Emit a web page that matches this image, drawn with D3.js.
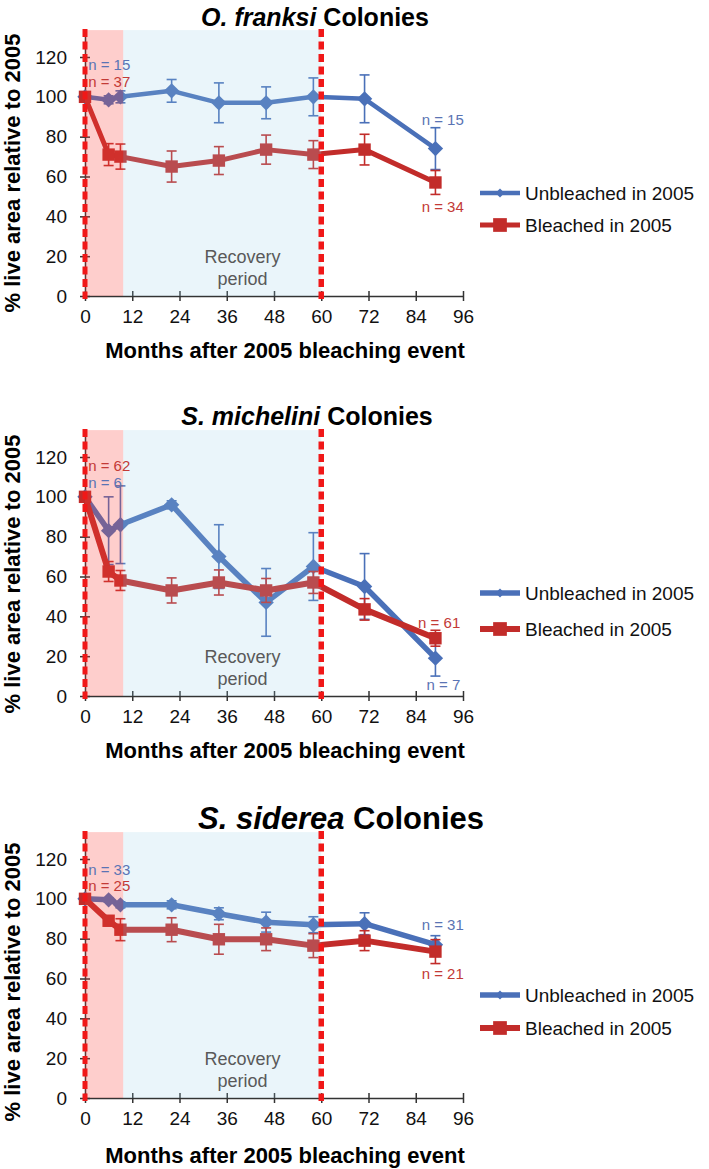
<!DOCTYPE html>
<html><head><meta charset="utf-8">
<script src="https://cdn.jsdelivr.net/npm/d3@7"></script>
<style>body{margin:0;background:#fff}</style>
</head><body>
<svg id="c" width="709" height="1169"></svg>
<script>
// ---- data ----
const months = [0, 6, 9, 22, 34, 46, 58, 71, 89];
const xTicks = [0, 12, 24, 36, 48, 60, 72, 84, 96];
const yTicks = [0, 20, 40, 60, 80, 100, 120];
const speciesNames = ["O. franksi", "S. michelini", "S. siderea"];
const seriesNames = ["Unbleached in 2005", "Bleached in 2005"];

const franksiUnbleached    = [100, 98.5, 100, 103, 97, 97, 100, 99, 74];
const franksiUnbleachedErr = [0, 2, 3, 5.7, 10, 8, 9.5, 12, 10.5];
const franksiBleached      = [100, 71, 70, 65, 68, 73.5, 71, 73.5, 57];
const franksiBleachedErr   = [0, 5.5, 6.3, 7.8, 7, 7.3, 7, 7.7, 6];

const michUnbleached    = [100, 83, 86, 96, 70, 47, 65, 55, 19];
const michUnbleachedErr = [0, 17, 19.5, 2, 16, 17, 17, 16.5, 9];
const michBleached      = [100, 62.5, 58, 53, 57, 53, 57, 43.5, 29];
const michBleachedErr   = [0, 5, 5, 6.3, 6.3, 6, 5.5, 5.4, 4];

const sidUnbleached    = [100, 99.5, 97, 97, 92.5, 88.3, 87, 87.5, 77];
const sidUnbleachedErr = [0, 1, 1.5, 2, 3, 5, 4, 5.5, 4.5];
const sidBleached      = [100, 89, 84.5, 84.5, 79.7, 79.7, 76.5, 79, 73.5];
const sidBleachedErr   = [0, 2.5, 5.5, 6, 7.5, 5.7, 6, 5, 6];

// n-labels: [text, series(0 blue/1 red), month, value, anchor]
const franksiLabels = [["n = 15",0,0.8,113.6,"start"],["n = 37",1,0.8,104.8,"start"],["n = 15",0,96.2,86,"end"],["n = 34",1,96.2,42.2,"end"]];
const michLabels    = [["n = 62",1,0.8,113,"start"],["n = 6",0,0.8,104.6,"start"],["n = 61",1,95.3,34.3,"end"],["n = 7",0,95.3,3,"end"]];
const sidLabels     = [["n = 33",0,0.8,112,"start"],["n = 25",1,0.8,103.8,"start"],["n = 31",0,96.2,84.2,"end"],["n = 21",1,96.2,59.5,"end"]];

const bleachEnd = 9.7, recoveryEnd = 60, yMax = 133.5;

// ---- layout ----
const FONT = "'Liberation Sans', Arial, sans-serif";
const blue = "#4a70b8", red = "#c22c2a", dashRed = "#f01818";
const panels = [
  {name: speciesNames[0], u: franksiUnbleached, ue: franksiUnbleachedErr, b: franksiBleached, be: franksiBleachedErr, labels: franksiLabels,
   y0: 296, titleX: 315, titleY: 26, titleSize: 25, ylabY: 173, xlabY: 358, leg: [-103, -71], lw: [4.5, 5]},
  {name: speciesNames[1], u: michUnbleached, ue: michUnbleachedErr, b: michBleached, be: michBleachedErr, labels: michLabels,
   y0: 696, titleX: 307, titleY: 425, titleSize: 25, ylabY: 574, xlabY: 758, leg: [-103, -67], lw: [5.5, 6]},
  {name: speciesNames[2], u: sidUnbleached, ue: sidUnbleachedErr, b: sidBleached, be: sidBleachedErr, labels: sidLabels,
   y0: 1098, titleX: 341, titleY: 829, titleSize: 31, ylabY: 982, xlabY: 1163, leg: [-103, -70], lw: [5.5, 6]}
];

const svg = d3.select("#c");
const x = d3.scaleLinear().domain([0, 96]).range([85, 463]);

panels.forEach(p => {
  const y = d3.scaleLinear().domain([0, yMax]).range([p.y0, p.y0 - 239 * yMax / 120]);
  const g = svg.append("g");

  // title
  const t = g.append("text").attr("x", p.titleX).attr("y", p.titleY).attr("text-anchor", "middle")
    .attr("font-family", FONT).attr("font-weight", "bold").attr("font-size", p.titleSize).attr("fill", "#000");
  t.append("tspan").attr("font-style", "italic").text(p.name);
  t.append("tspan").text(" Colonies");

  // axes
  const xa = g.append("g").attr("transform", `translate(0,${p.y0})`)
    .call(d3.axisBottom(x).tickValues(xTicks).tickSize(5).tickSizeOuter(0).tickPadding(10));
  xa.selectAll(".tick line").attr("y1", -5).attr("y2", 5);
  const ya = g.append("g").attr("transform", `translate(85,0)`)
    .call(d3.axisLeft(y).tickValues(yTicks).tickSize(5).tickSizeOuter(0).tickPadding(13));
  ya.selectAll(".tick line").attr("x1", -5).attr("x2", 5);
  [xa, ya].forEach(a => {
    a.selectAll("path.domain").attr("stroke", "#333").attr("stroke-width", 1.5);
    a.selectAll(".tick line").attr("stroke", "#333").attr("stroke-width", 1.5);
    a.selectAll("text").attr("font-family", FONT).attr("font-size", 19).attr("fill", "#111");
  });
  xa.selectAll("text").attr("y", 14);

  // axis titles
  g.append("text").attr("transform", `translate(20,${p.ylabY}) rotate(-90)`).attr("text-anchor", "middle")
    .attr("font-family", FONT).attr("font-weight", "bold").attr("font-size", 22).text("% live area relative to 2005");
  g.append("text").attr("x", 285).attr("y", p.xlabY).attr("text-anchor", "middle")
    .attr("font-family", FONT).attr("font-weight", "bold").attr("font-size", 22).text("Months after 2005 bleaching event");

  // series
  const series = [{v: p.u, e: p.ue, c: blue, lw: p.lw[0], shape: "diamond"}, {v: p.b, e: p.be, c: red, lw: p.lw[1], shape: "square"}];
  series.forEach(s => {
    const pts = months.map((m, i) => ({m, v: s.v[i], e: s.e[i]}));
    // error bars
    const eb = g.append("g").attr("stroke", s.c).attr("stroke-width", 1.6).attr("fill", "none");
    pts.filter(d => d.e > 0).forEach(d => {
      eb.append("line").attr("x1", x(d.m)).attr("x2", x(d.m)).attr("y1", y(d.v + d.e)).attr("y2", y(d.v - d.e));
      eb.append("line").attr("x1", x(d.m) - 5).attr("x2", x(d.m) + 5).attr("y1", y(d.v + d.e)).attr("y2", y(d.v + d.e));
      eb.append("line").attr("x1", x(d.m) - 5).attr("x2", x(d.m) + 5).attr("y1", y(d.v - d.e)).attr("y2", y(d.v - d.e));
    });
    g.append("path").datum(pts).attr("fill", "none").attr("stroke", s.c).attr("stroke-width", s.lw)
      .attr("stroke-linejoin", "round")
      .attr("d", d3.line().x(d => x(d.m)).y(d => y(d.v)));
    g.selectAll(null).data(pts).enter().append("path")
      .attr("d", d3.symbol().type(d3.symbolSquare2).size(s.shape === "diamond" ? 150 : 196)())
      .attr("transform", d => `translate(${x(d.m)},${y(d.v)})` + (s.shape === "diamond" ? " rotate(45)" : ""))
      .attr("fill", s.c).attr("stroke", "none");
  });

  // shading overlays
  g.append("rect").attr("x", x(0)).attr("width", x(bleachEnd) - x(0)).attr("y", y(yMax)).attr("height", y(0) - y(yMax))
    .attr("fill", "rgb(250,60,50)").attr("fill-opacity", 0.25);
  g.append("rect").attr("x", x(bleachEnd)).attr("width", x(recoveryEnd) - x(bleachEnd)).attr("y", y(yMax)).attr("height", y(0) - y(yMax))
    .attr("fill", "rgb(150,205,230)").attr("fill-opacity", 0.2);

  // dashed event lines
  [0, recoveryEnd].forEach(m => {
    g.append("line").attr("x1", x(m)).attr("x2", x(m)).attr("y1", y(yMax) - 1).attr("y2", y(0) + 3)
      .attr("stroke", dashRed).attr("stroke-width", m === 0 ? 5 : 5.5).attr("stroke-dasharray", "8,4.5");
  });

  // recovery text
  const rt = g.append("text").attr("text-anchor", "middle").attr("font-family", FONT).attr("font-size", 18).attr("fill", "#595959");
  rt.append("tspan").attr("x", x(40)).attr("y", p.y0 - 33).text("Recovery");
  rt.append("tspan").attr("x", x(40)).attr("y", p.y0 - 11).text("period");

  // n labels
  p.labels.forEach(l => {
    g.append("text").attr("x", x(l[2])).attr("y", y(l[3])).attr("text-anchor", l[4])
      .attr("font-family", FONT).attr("font-size", 15).attr("fill", l[1] === 0 ? "#5a74b4" : "#c33a36").text(l[0]);
  });

  // legend
  series.forEach((s, i) => {
    const ly = p.y0 + p.leg[i];
    g.append("line").attr("x1", 480).attr("x2", 520).attr("y1", ly).attr("y2", ly).attr("stroke", s.c).attr("stroke-width", s.lw);
    g.append("path").attr("d", d3.symbol().type(d3.symbolSquare2).size(i === 0 ? 50 : 240)())
      .attr("transform", `translate(500,${ly})` + (i === 0 ? " rotate(45)" : "")).attr("fill", s.c);
    g.append("text").attr("x", 525).attr("y", ly).attr("dy", "0.35em").attr("font-family", FONT).attr("font-size", 19)
      .attr("fill", "#111").text(seriesNames[i]);
  });
});
</script></body></html>
